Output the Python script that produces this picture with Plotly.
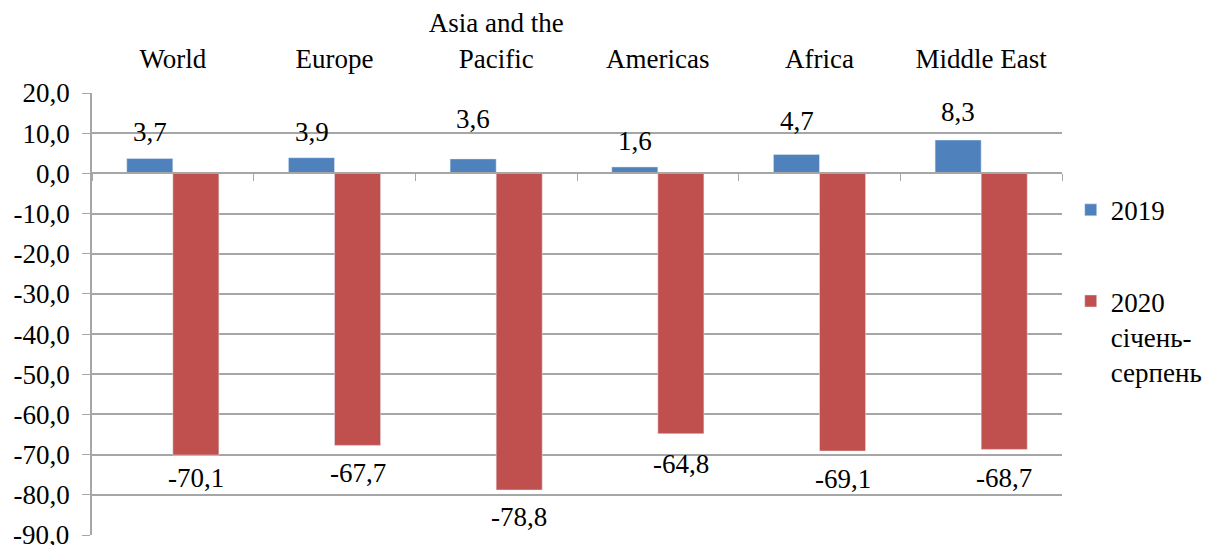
import plotly.graph_objects as go

categories = ["World", "Europe", "Asia and the<br>Pacific", "Americas", "Africa", "Middle East"]
values_2019 = [3.7, 3.9, 3.6, 1.6, 4.7, 8.3]
values_2020 = [-70.1, -67.7, -78.8, -64.8, -69.1, -68.7]
series_names = ["2019", "2020<br>січень-<br>серпень"]
y_ticks = [20, 10, 0, -10, -20, -30, -40, -50, -60, -70, -80, -90]


def fmt(v):
    return f"{v:.1f}".replace(".", ",")


# bottom tick label is drawn as an annotation so it is not dropped at the page edge
y_tick_text = [fmt(v) for v in y_ticks[:-1]] + [""]

# label pixel offsets (text placement only)
shift_2019 = [27, 26, 40, 26, 33, 28]
shift_2020 = [23, 28, 27, 30, 28, 29]

BLUE = "#4F81BD"
RED = "#C0504D"
GRID = "#A6A6A6"
FONT = "Times New Roman"
FS = 27

fig = go.Figure()
fig.add_trace(go.Bar(x=categories, y=values_2019, name=series_names[0], marker_color=BLUE,
                     legendgroup="a"))
fig.add_trace(go.Bar(x=categories, y=values_2020, name=series_names[1], marker_color=RED,
                     legendgroup="b"))
fig.add_trace(go.Scatter(x=[None], y=[None], xaxis="x2", showlegend=False, hoverinfo="skip"))

ann = []
for i, c in enumerate(categories):
    ann.append(dict(x=c, y=values_2019[i], text=fmt(values_2019[i]),
                    xref="x", yref="y", showarrow=False, xshift=-23, yshift=shift_2019[i],
                    font=dict(family=FONT, size=FS, color="black")))
    ann.append(dict(x=c, y=values_2020[i], text=fmt(values_2020[i]),
                    xref="x", yref="y", showarrow=False, xshift=23, yshift=-shift_2020[i],
                    font=dict(family=FONT, size=FS, color="black")))
ann.append(dict(x=0, y=y_ticks[-1], xref="paper", yref="y", text=fmt(y_ticks[-1]),
                showarrow=False, xanchor="right", yanchor="middle", xshift=-21,
                font=dict(family=FONT, size=FS, color="black")))

fig.update_layout(
    width=1207, height=545,
    margin=dict(l=92, r=145, t=93, b=10, autoexpand=False),
    paper_bgcolor="white", plot_bgcolor="white",
    font=dict(family=FONT, size=FS, color="black"),
    barmode="group", bargap=0.43, bargroupgap=0,
    separators=", ",
    annotations=ann,
    xaxis=dict(type="category", side="top", showgrid=False, showline=False, ticks="",
               automargin=False, ticklabelstandoff=19, tickfont=dict(family=FONT, size=FS)),
    xaxis2=dict(overlaying="x", anchor="free", position=90 / 110, side="bottom",
                range=[-0.5, 5.5], tickmode="array", tickvals=[-0.5, 0.5, 1.5, 2.5, 3.5, 4.5, 5.5],
                ticks="outside", ticklen=7, tickcolor=GRID, showticklabels=False, automargin=False,
                showline=True, linecolor=GRID, linewidth=1.5, showgrid=False, zeroline=False),
    yaxis=dict(range=[-90, 20], tickmode="array", tickvals=y_ticks, ticktext=y_tick_text,
               showgrid=True, gridcolor=GRID, gridwidth=1.5, zeroline=False, automargin=False,
               showline=True, linecolor=GRID, linewidth=1.5,
               ticks="outside", ticklen=8, tickcolor=GRID, ticklabelstandoff=7,
               tickfont=dict(family=FONT, size=FS)),
    legend=dict(x=1.009, xanchor="left", y=0.79, yanchor="top", tracegroupgap=53,
                valign="top",
                font=dict(family=FONT, size=FS), bgcolor="rgba(0,0,0,0)"),
    showlegend=True,
)

fig.write_html("out.html", config={"displayModeBar": False},
               post_script="document.body.style.margin='0px';")
